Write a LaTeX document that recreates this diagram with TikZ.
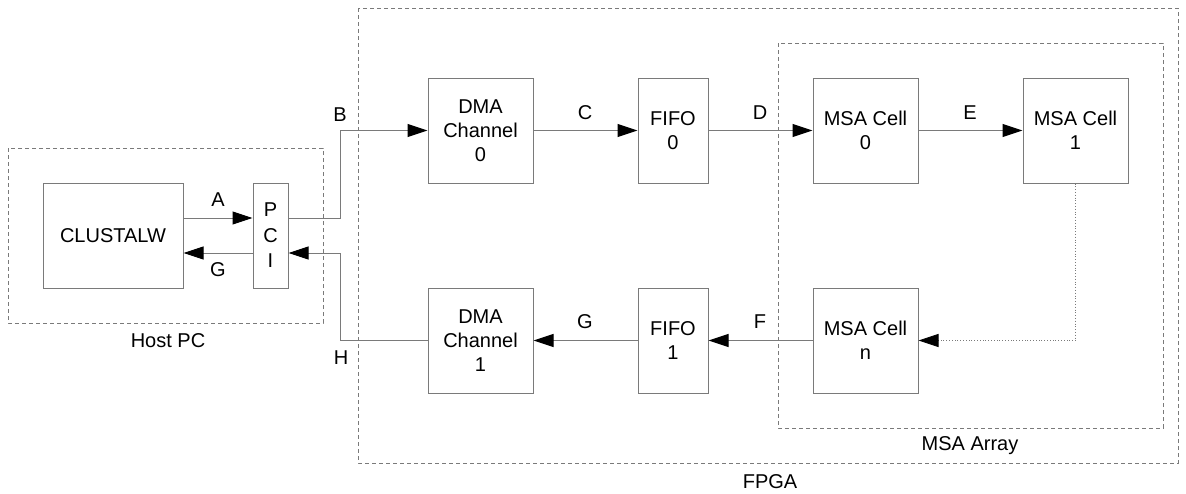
\documentclass[tikz,border=0pt]{standalone}
\usepackage{fontspec}
\setmainfont{Liberation Sans}
\usetikzlibrary{arrows.meta}
\definecolor{ln}{HTML}{7A7A7A}
\begin{document}
\begin{tikzpicture}[x=1pt,y=-1pt,
  font=\fontsize{20}{24}\selectfont,
  blk/.style={draw=ln,line width=1pt,align=center,inner sep=0pt},
  grp/.style={draw=ln,line width=0.8pt,dash pattern=on 4pt off 3pt},
  conn/.style={draw=ln,line width=1pt,-{Triangle[length=20pt,width=13pt,fill=black,color=black]}},
  lbl/.style={inner sep=0pt}]
\useasboundingbox (0,0) rectangle (1186,493);
% groups
\draw[grp] (8,148) rectangle (323,323);
\draw[grp] (358,8) rectangle (1178,463);
\draw[grp] (778,43) rectangle (1163,428);
\node[lbl] (hostlbl) at (168,341) {Host PC};
\node[lbl] (fpgalbl) at (770,482) {FPGA};
\node[lbl] (msalbl) at (970,446) {MSA Array};
% blocks
\node[blk,minimum width=140pt,minimum height=105pt] (clw) at (113,235.5) {CLUSTALW};
\node[blk,minimum width=35pt,minimum height=105pt,font=\fontsize{20}{25.5}\selectfont] (pci) at (270.5,235.5) {P\\C\\I};
\node[blk,minimum width=105pt,minimum height=105pt] (dma0) at (480.5,130.5) {DMA\\Channel\\0};
\node[blk,minimum width=70pt,minimum height=105pt] (fifo0) at (673,130.5) {FIFO\\0};
\node[blk,minimum width=105pt,minimum height=105pt] (msa0) at (865.5,130.5) {MSA Cell\\0};
\node[blk,minimum width=105pt,minimum height=105pt] (msa1) at (1075.5,130.5) {MSA Cell\\1};
\node[blk,minimum width=105pt,minimum height=105pt] (msan) at (865.5,340.5) {MSA Cell\\n};
\node[blk,minimum width=70pt,minimum height=105pt] (fifo1) at (673,340.5) {FIFO\\1};
\node[blk,minimum width=105pt,minimum height=105pt] (dma1) at (480.5,340.5) {DMA\\Channel\\1};
% helper coordinates
\coordinate (ya) at (0,218);
\coordinate (yg) at (0,253);
\coordinate (xb) at (340.5,0);
% connectors
\draw[conn] (clw.east |- ya) -- (pci.west |- ya);
\draw[conn] (pci.west |- yg) -- (clw.east |- yg);
\draw[conn] (pci.east |- ya) -- (xb |- ya) -- (xb |- dma0.west) -- (dma0.west);
\draw[conn] (dma1.west) -- (xb |- dma1.west) -- (xb |- yg) -- (pci.east |- yg);
\draw[conn] (dma0.east) -- (fifo0.west);
\draw[conn] (fifo0.east) -- (msa0.west);
\draw[conn] (msa0.east) -- (msa1.west);
\draw[draw=ln,line width=0.8pt,dotted,-{Triangle[length=20pt,width=13pt,fill=black,color=black]}] (msa1.south) -- (msa1.south |- msan.east) -- (msan.east);
\draw[conn] (msan.west) -- (fifo1.east);
\draw[conn] (fifo1.west) -- (dma1.east);
% labels
\node[lbl] (la) at (218,200) {A};
\node[lbl] (lg1) at (218,270) {G};
\node[lbl] (lb) at (340,115) {B};
\node[lbl] (lh) at (341,358) {H};
\node[lbl] (lc) at (585,113) {C};
\node[lbl] (ld) at (760,113) {D};
\node[lbl] (le) at (970,113) {E};
\node[lbl] (lg2) at (585,322) {G};
\node[lbl] (lf) at (760,322) {F};
\end{tikzpicture}
\end{document}
